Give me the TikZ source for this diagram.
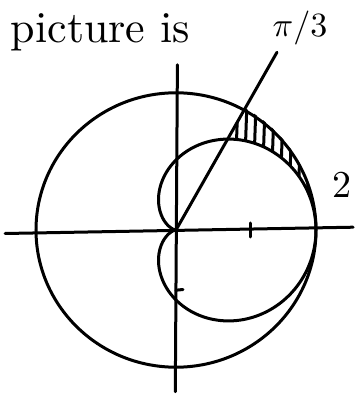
\documentclass[tikz,border=0pt]{standalone}
\usetikzlibrary{calc}
\begin{document}
\begin{tikzpicture}[x=70pt,y=70pt,
  ink/.style={line width=3pt,line cap=round,line join=round,black},
  hatchline/.style={line width=3pt,line cap=round,black},
  lbl/.style={inner sep=0pt}]
\useasboundingbox (-176pt,-165pt) rectangle (178pt,230pt);
% named points
\coordinate (O) at (0,0);
\coordinate (xl) at (-2.44,-0.05);
\coordinate (xr) at (2.53,0.04);
\coordinate (yt) at (0.02,2.36);
\coordinate (yb) at (-0.01,-2.31);
\coordinate (lt) at (60.4:2.92);
% outer circle r = 2
\draw[ink] (O) ellipse [x radius=2, y radius=1.96];
% cardioid r = 1 + cos(theta)
\draw[ink,domain=0:360,samples=150,smooth,variable=\t]
  plot ({(1+cos(\t))*cos(\t)},{(1+cos(\t))*sin(\t)});
% hatching between cardioid and circle for 0 <= theta <= pi/3
\begin{scope}
  \clip (60:2) arc [start angle=60,end angle=0,x radius=2,y radius=1.96]
    -- plot[domain=0:60,samples=40,smooth,variable=\t]
       ({(1+cos(\t))*cos(\t)},{(1+cos(\t))*sin(\t)}) -- cycle;
  \foreach \x in {0.82,0.95,...,2.0}
    \draw[hatchline] (\x,0) -- (\x+0.07,2);
\end{scope}
% axes
\draw[ink] (xl) -- (xr);
\draw[ink] (yt) -- (yb);
% ray theta = pi/3
\draw[ink] (O) -- (lt);
% ticks
\draw[ink] (1.06,-0.1) -- (1.06,0.1);
\draw[ink] (0,-0.86) -- (0.1,-0.85);
% labels
\node[lbl,anchor=base west,scale=4.4] (title) at (-166pt,187pt) {picture is};
\node[lbl,scale=3.4] (pi3) at (124pt,202pt) {$\pi/3$};
\node[lbl,scale=3.8] (two) at (166pt,45pt) {2};
\end{tikzpicture}
\end{document}
